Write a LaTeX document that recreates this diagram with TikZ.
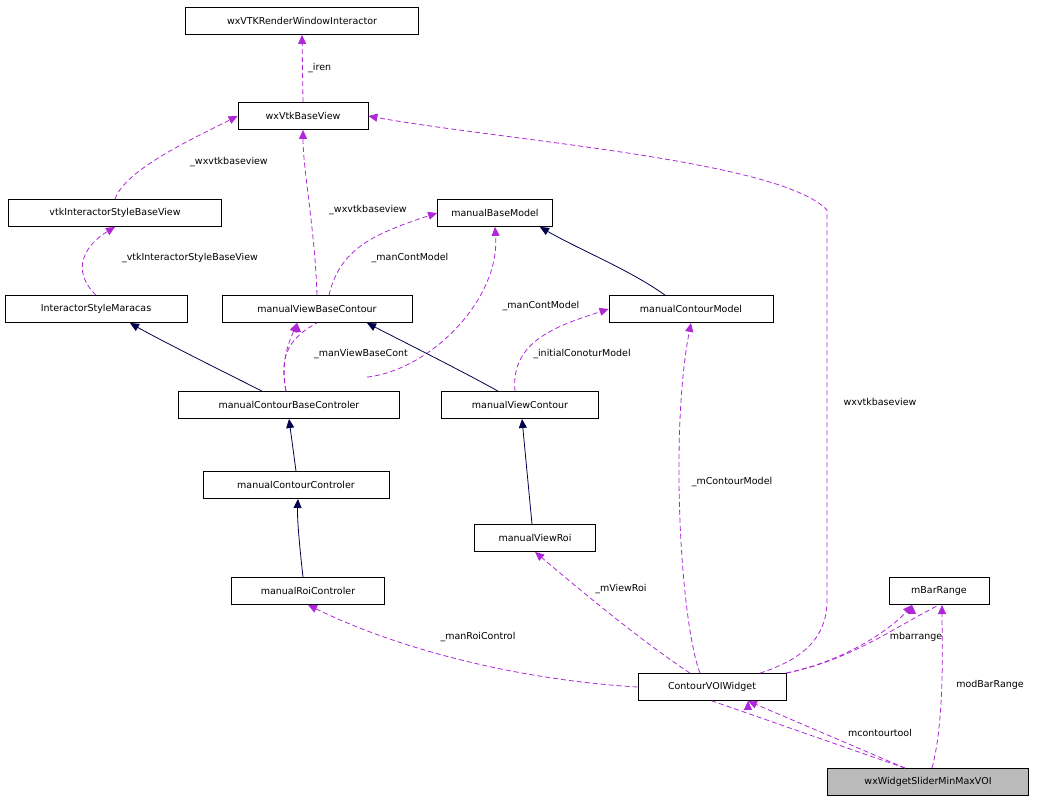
\documentclass[tikz,border=0pt]{standalone}
\usepackage{fontspec}
\setmainfont{DejaVu Sans}
\usetikzlibrary{arrows.meta}
\begin{document}
\begin{tikzpicture}[x=1pt,y=-1pt,
 box/.style={draw,fill=white,minimum height=27pt,inner sep=0pt,font=\fontsize{9.5}{11}\selectfont,line width=0.8pt},
 col/.style={draw=violet!80!magenta,dashed,line width=0.8pt,dash pattern=on 5pt off 3pt,-{Triangle[length=9pt,width=8pt,fill=violet!80!magenta]}},
 inh/.style={draw=blue!30!black,line width=0.8pt,-{Triangle[length=9pt,width=8pt,fill=blue!30!black]}},
 lb/.style={font=\fontsize{9.5}{11}\selectfont}]
\useasboundingbox (0,0) rectangle (1043,803);
\definecolor{violet}{RGB}{154,50,205}
\node[box,minimum width=233pt] (ren) at (302,21) {wxVTKRenderWindowInteractor};
\node[box,minimum width=130pt] (bv) at (303,116) {wxVtkBaseView};
\node[box,minimum width=213pt] (isbv) at (115,213) {vtkInteractorStyleBaseView};
\node[box,minimum width=115pt] (bm) at (495,213) {manualBaseModel};
\node[box,minimum width=182pt] (ism) at (96,309) {InteractorStyleMaracas};
\node[box,minimum width=190pt] (vbc) at (317,309) {manualViewBaseContour};
\node[box,minimum width=164pt] (cm) at (691,309) {manualContourModel};
\node[box,minimum width=221pt] (cbc) at (289,405) {manualContourBaseControler};
\node[box,minimum width=157pt] (vc) at (520,405) {manualViewContour};
\node[box,minimum width=186pt] (cc) at (296,485) {manualContourControler};
\node[box,minimum width=121pt] (vr) at (535,538) {manualViewRoi};
\node[box,minimum width=153pt] (rc) at (308,591) {manualRoiControler};
\node[box,minimum width=100pt] (mb) at (939,591) {mBarRange};
\node[box,minimum width=148pt] (cw) at (712,687) {ContourVOIWidget};
\node[box,minimum width=201pt,fill=black!27] (ws) at (928,782) {wxWidgetSliderMinMaxVOI};

\draw[col] (bv.north) -- (ren.south) node[lb,midway,right=2pt] {\_iren};
\draw[col] (isbv.north) .. controls (125,170) and (190,140) .. (bv.west);
\node[lb] at (229,162) {\_wxvtkbaseview};
\draw[col] (vbc.north) .. controls (315,230) and (303,170) .. (bv.south);
\node[lb] at (368,210) {\_wxvtkbaseview};
\draw[col] (ism.north) .. controls (70,270) and (85,245) .. (isbv.south);
\node[lb] at (190,258) {\_vtkInteractorStyleBaseView};
\draw[col] (vbc.north) ++(12,0) .. controls (340,250) and (370,235) .. (bm.west);
\node[lb] at (410,258) {\_manContModel};
\draw[col] (cbc.north) ++(78,-14) .. controls (430,370) and (500,300) .. (bm.south);
\node[lb] at (541,306) {\_manContModel};
\draw[col] (cbc.north) ++(-3,0) .. controls (280,360) and (285,340) .. (vbc.south) ++(-20,0);
\draw[col] (286,391) .. controls (280,360) and (290,340) .. (297,323);
\node[lb] at (361,354) {\_manViewBaseCont};
\draw[col] (vc.north) ++(-5,0) .. controls (510,340) and (560,325) .. (cm.west);
\node[lb] at (582,354) {\_initialConoturModel};
\draw[col] (cw.north) ++(-12,0) .. controls (680,620) and (670,430) .. (cm.south);
\node[lb] at (732,482) {\_mContourModel};
\draw[col] (cw.north) ++(-22,0) .. controls (640,640) and (580,590) .. (vr.south);
\node[lb] at (621,589) {\_mViewRoi};
\draw[col] (cw.west) .. controls (520,680) and (400,650) .. (rc.south);
\node[lb] at (478,637) {\_manRoiControl};
\draw[col] (cw.north) ++(48,0) .. controls (800,660) and (827,640) .. (827,600) -- (827,210) .. controls (780,160) and (500,140) .. (bv.east);
\node[lb] at (880,402) {wxvtkbaseview};
\draw[col] (cw.north east) .. controls (850,660) and (890,630) .. (mb.south) ++(-27,0);
\draw[col] (786,673) .. controls (850,660) and (895,625) .. (912,605);
\node[lb] at (916,637) {mbarrange};
\draw[col] (ws.north) ++(-23,0) -- (cw.south) ++(36,0);
\draw[col] (905,768) -- (748,701);
\node[lb] at (880,733) {mcontourtool};
\draw[col] (932,768) .. controls (945,720) and (942,640) .. (942,605);
\node[lb] at (990,685) {modBarRange};

\draw[inh] (cbc.north) ++(-27,0) .. controls (220,370) and (160,340) .. (130,323);
\draw[inh] (vc.north) ++(-22,0) .. controls (460,370) and (400,340) .. (367,323);
\draw[inh] (cm.north) ++(-26,0) .. controls (630,270) and (580,250) .. (540,227);
\draw[inh] (cc.north) -- (289,419);
\draw[inh] (vr.north) ++(-3,0) -- (522,419);
\draw[inh] (rc.north) ++(-5,0) .. controls (300,550) and (297,520) .. (298,499);
\end{tikzpicture}
\end{document}
